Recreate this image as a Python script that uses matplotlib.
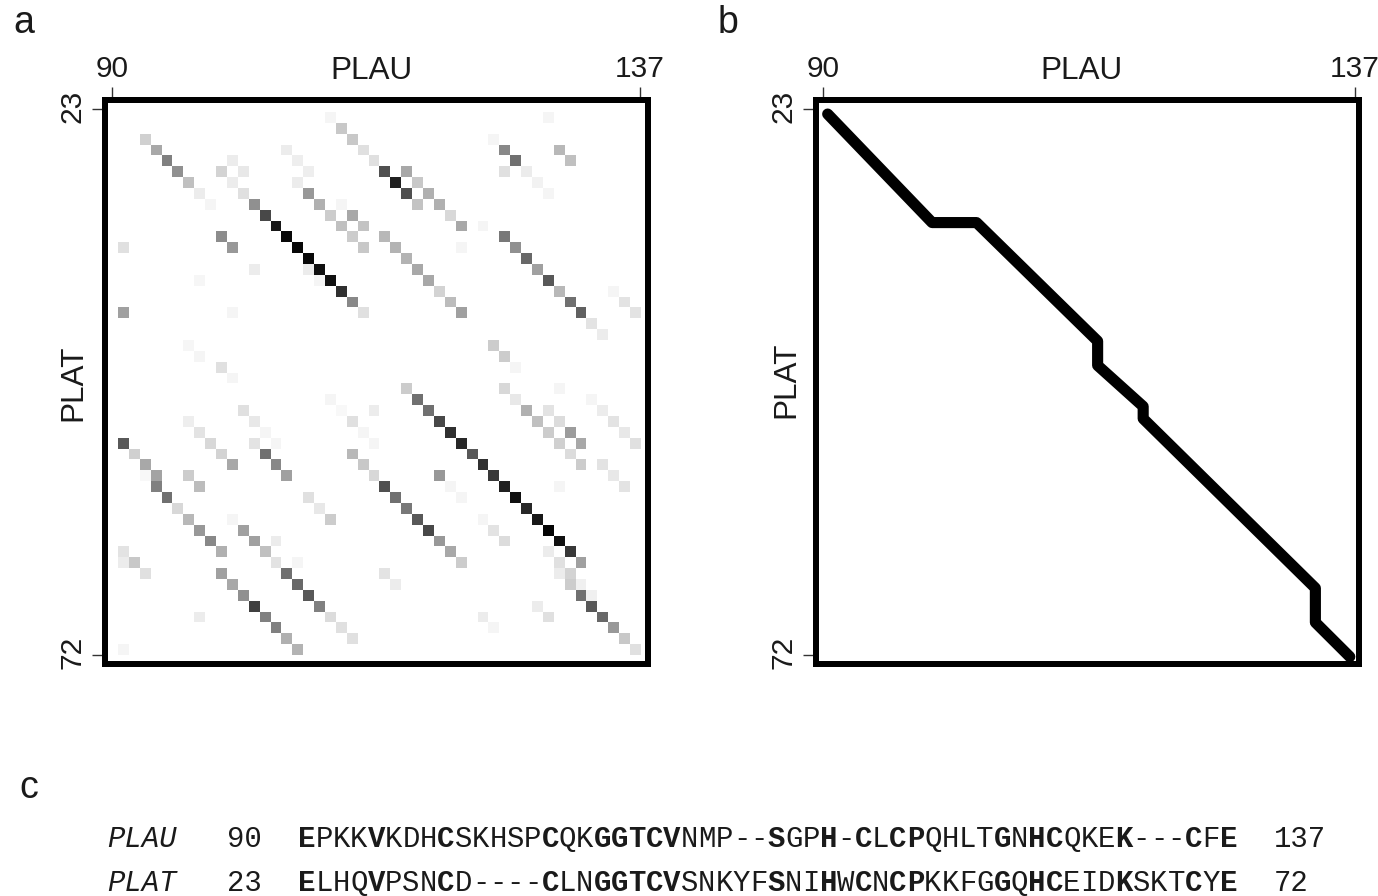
# dot plot of PLAU vs PLAT residues, best alignment path and the aligned sequences
import numpy as np
import matplotlib
matplotlib.use('Agg')
import matplotlib.pyplot as plt
from matplotlib.transforms import ScaledTranslation

plt.rcParams['font.family'] = 'Liberation Sans'

# panel a: row / column index of each shaded cell and its grey level (0 black, 255 white)
cell_rows = [0, 1, 2, 3, 4,
             2, 3, 4, 5, 6, 7, 8,
             3, 4, 5, 6, 7, 8, 9, 10, 11, 12,
             8, 9, 10,
             4, 5, 5, 6, 7, 8, 9, 10, 11, 12, 13, 14, 15, 16, 17, 18,
             14, 15, 11, 12, 12, 14, 15, 18, 18, 21, 22, 23, 24,
             0, 2, 3, 4, 3, 4, 5, 5, 6, 7,
             5, 6, 7, 5, 6, 7, 8, 8, 9, 10, 10,
             11, 12, 13, 14, 15, 16, 17, 18, 19, 20, 16, 17, 18,
             11, 12, 13, 14, 15, 16, 17, 18, 12, 21, 22, 23,
             26, 27, 28, 29, 30, 27,
             27, 28, 29, 30, 30, 31, 32, 33,
             28, 29, 30, 31, 32,
             30, 31, 32, 33, 33, 34, 35, 36, 37, 38, 39, 40, 33, 34,
             31, 32, 33, 35, 36, 37,
             37, 38, 39, 40, 39, 41, 42, 43, 44, 45, 46, 47, 48, 41,
             40, 41, 41, 42, 42, 43, 44, 45, 46, 47, 48, 49, 46, 49,
             25, 26, 27, 28, 29, 30, 31, 32, 33, 34, 35, 36, 37, 38, 39, 40, 41,
             40, 41, 42, 42, 43, 43, 44, 44, 45, 46, 47, 48, 49,
             25, 26, 27, 28, 29, 30, 31, 32, 27, 28, 29, 30,
             25, 26, 27, 28, 29, 30, 32, 33, 34,
             34, 35, 36, 37, 38, 39, 40, 41,
             33, 34, 35, 37, 38, 39, 34, 42, 43, 45, 46, 46, 47]
cell_cols = [19, 20, 21, 22, 23,
             2, 3, 4, 5, 6, 7, 8,
             15, 16, 17, 16, 17, 18, 19, 20, 21, 22,
             20, 21, 22,
             10, 9, 11, 10, 11, 12, 13, 14, 15, 16, 17, 18, 19, 20, 21, 22,
             17, 18, 9, 10, 0, 12, 7, 0, 10, 6, 7, 9, 10,
             39, 34, 35, 36, 40, 41, 35, 37, 38, 39,
             24, 25, 26, 26, 27, 28, 29, 27, 30, 31, 33,
             35, 36, 37, 38, 39, 40, 41, 42, 43, 44, 45, 46, 47,
             24, 25, 26, 27, 28, 29, 30, 31, 31, 34, 35, 36,
             19, 20, 21, 22, 23, 23,
             11, 12, 13, 12, 14, 13, 14, 15,
             6, 7, 8, 9, 10,
             0, 1, 2, 3, 2, 3, 4, 5, 6, 7, 8, 9, 6, 7,
             21, 22, 23, 17, 18, 19,
             10, 11, 12, 13, 14, 14, 15, 16, 17, 18, 19, 20, 21, 16,
             0, 0, 1, 2, 9, 10, 11, 12, 13, 14, 15, 16, 7, 0,
             26, 27, 28, 29, 30, 31, 32, 33, 34, 35, 36, 37, 38, 39, 40, 41, 42,
             39, 40, 40, 41, 41, 42, 42, 43, 43, 44, 45, 46, 47,
             35, 36, 37, 38, 39, 40, 41, 42, 39, 40, 41, 42,
             40, 43, 44, 45, 46, 47, 44, 45, 46,
             24, 25, 26, 27, 28, 29, 30, 31,
             29, 30, 31, 33, 34, 35, 40, 24, 25, 38, 39, 33, 34]
cell_grey = [0xF5, 0xC8, 0xC8, 0xE0, 0xE0,
             0xD0, 0xA8, 0x80, 0x90, 0xC0, 0xEC, 0xF5,
             0xEC, 0xEE, 0xEE, 0xEC, 0x98, 0xB0, 0xCC, 0xC0, 0xCC, 0xC8,
             0xF5, 0xA8, 0xC4,
             0xEC, 0xD4, 0xE8, 0xEC, 0xE0, 0x90, 0x48, 0x18, 0x08, 0x08, 0x08, 0x10, 0x10, 0x30, 0x88, 0xE0,
             0xEC, 0xF5, 0x8C, 0x98, 0xE0, 0xEC, 0xF6, 0xA0, 0xF5, 0xF6, 0xF5, 0xE0, 0xF5,
             0xF5, 0xF5, 0x88, 0x70, 0xB8, 0xC0, 0xE0, 0xEC, 0xF2, 0xF5,
             0x50, 0x20, 0x50, 0xA8, 0xC8, 0xB0, 0xB0, 0xC4, 0xD8, 0xA8, 0xF5,
             0x78, 0x90, 0x68, 0xA0, 0x58, 0xB8, 0x70, 0x60, 0xE4, 0xEC, 0xF5, 0xE4, 0xE4,
             0xB8, 0xB4, 0xB4, 0xA8, 0xA8, 0xD4, 0xBC, 0xA0, 0xF5, 0xCC, 0xCC, 0xF5,
             0xF5, 0xF8, 0xE0, 0xF5, 0xF5, 0xEC,
             0xE0, 0xE8, 0xF5, 0xE4, 0xF5, 0x70, 0x88, 0xA0,
             0xEE, 0xE4, 0xD8, 0xD4, 0xA8,
             0x58, 0xD0, 0xA8, 0xA4, 0xF8, 0x80, 0x70, 0xD8, 0xB8, 0x98, 0x88, 0xB0, 0xCC, 0xBC,
             0xB8, 0xC8, 0xD8, 0xE0, 0xE8, 0xCC,
             0xF5, 0xA0, 0xA0, 0xC0, 0xEC, 0xE4, 0x70, 0x68, 0x58, 0x80, 0xDC, 0xE0, 0xE0, 0xF5,
             0xE4, 0xEC, 0xC8, 0xE0, 0xA0, 0xA8, 0x90, 0x40, 0x80, 0x80, 0xB0, 0xB4, 0xEC, 0xF5,
             0xCC, 0x70, 0x70, 0x48, 0x30, 0x28, 0x58, 0x30, 0x38, 0x20, 0x10, 0x28, 0x18, 0x04, 0x10, 0x38, 0xA0,
             0xEC, 0xE0, 0xEC, 0xD4, 0xCC, 0xF0, 0x70, 0xF0, 0x58, 0x68, 0x98, 0xC8, 0xE0,
             0xD8, 0xE8, 0xB0, 0xC0, 0xCC, 0xD0, 0xDC, 0xCC, 0xE4, 0xDC, 0x9C, 0xA8,
             0xF5, 0xF5, 0xEC, 0xE4, 0xE8, 0xE0, 0xE4, 0xE8, 0xE4,
             0x50, 0x70, 0x78, 0x58, 0x48, 0x98, 0xA8, 0xCC,
             0x98, 0xF5, 0xF5, 0xF5, 0xE4, 0xDC, 0xF5, 0xE4, 0xEC, 0xEC, 0xE0, 0xEC, 0xF5]

# panel b: corners of the alignment path in residue numbers
path_plau = [90, 99.4, 103.4, 114.3, 114.3, 118.4, 118.4, 133.9, 133.9, 137]
path_plat = [23, 32.8, 32.8, 43.5, 45.7, 49.4, 50.5, 65.8, 68.9, 72]

# panel c: aligned sequences
seq_plau = 'EPKKVKDHCSKHSPCQKGGTCVNMP--SGPH-CLCPQHLTGNHCQKEK---CFE'
seq_plat = 'ELHQVPSNCD----CLNGGTCVSNKYFSNIHWCNCPKKFGGQHCEIDKSKTCYE'

W, H = 1378, 896
text_col = '#1a1a1a'
frame_px = 4.32  # 6 px at dpi 100


def make_axes(x0, y0, x1, y1):
    # position given in pixels of the final picture, y from the top
    ax = fig.add_axes([x0 / W, 1 - y1 / H, (x1 - x0) / W, (y1 - y0) / H])
    for s in ax.spines.values():
        s.set_linewidth(frame_px)
        s.set_color('black')
    ax.xaxis.tick_top()
    ax.tick_params(length=9.6, width=1.0, color='#333333', labelsize=21.5,
                   labelcolor=text_col)
    ax.tick_params(axis='x', pad=3)
    ax.tick_params(axis='y', pad=3.6)
    return ax


def nudge_yticklabels(ax):
    # rotated labels sit a little low otherwise
    up = ScaledTranslation(0, 3 / 100, fig.dpi_scale_trans)
    for t in ax.get_yticklabels():
        t.set_transform(t.get_transform() + up)


fig = plt.figure(figsize=(W / 100, H / 100), dpi=100)

# panel a
grid = np.full((50, 48), 255)
grid[cell_rows, cell_cols] = cell_grey
ax1 = make_axes(104.7, 100.3, 648, 663.7)
ax1.imshow(grid, cmap='gray', vmin=0, vmax=255, aspect='auto', interpolation='nearest')
ax1.set_xlim(-1.68, 48.25)
ax1.set_ylim(50.34, -1.565)
ax1.set_xticks([-1.01, 47.5], ['90', '137'])
ax1.set_yticks([-0.76, 49.54], ['23', '72'], rotation=90, va='center')
nudge_yticklabels(ax1)

# panel b
ax2 = make_axes(816, 100.3, 1358.7, 663.5)
ax2.plot(path_plau, path_plat, color='black', lw=8.0,
         solid_capstyle='round', solid_joinstyle='round')
ax2.set_xlim(88.95, 137.8)
ax2.set_ylim(72.61, 21.76)
ax2.set_xticks([89.55, 137.46], ['90', '137'])
ax2.set_yticks([22.55, 71.85], ['23', '72'], rotation=90, va='center')
nudge_yticklabels(ax2)


def put(x, y, s, **kw):
    fig.text(x / W, 1 - y / H, s, color=text_col, **kw)


put(371, 71, 'PLAU', fontsize=22.7, ha='center', va='center')
put(1081, 71, 'PLAU', fontsize=22.7, ha='center', va='center')
put(73, 383, 'PLAT', fontsize=22.7, ha='center', va='center', rotation=90)
put(786, 380, 'PLAT', fontsize=22.7, ha='center', va='center', rotation=90)

put(13, 33, 'a', fontsize=27)
put(718, 33, 'b', fontsize=27)
put(19, 798, 'c', fontsize=27)

# panel c: one character at a time so identical columns can go bold
mono = 'Liberation Mono'
step = 17.39
left = 298
base1, base2 = 847, 891
size = 20.87
for name, start, end, seq, y in [('PLAU', '90', '137', seq_plau, base1),
                                 ('PLAT', '23', '72', seq_plat, base2)]:
    put(107, y, name, family=mono, style='italic', fontsize=size)
    put(227, y, start, family=mono, fontsize=size)
    put(1274, y, end, family=mono, fontsize=size)
    for i, ch in enumerate(seq):
        same = seq_plau[i] == seq_plat[i]
        put(left + step * (i + 0.5), y, ch, family=mono, fontsize=size, ha='center',
            weight='bold' if same else 'normal')

fig.savefig('out.png', dpi=100)
